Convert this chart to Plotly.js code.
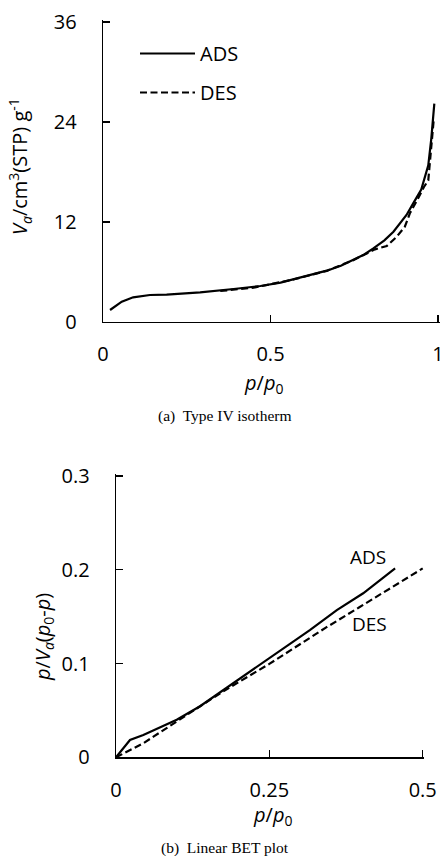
<!DOCTYPE html>
<html><head><meta charset="utf-8">
<script src="https://cdn.plot.ly/plotly-3.0.1.min.js"></script>
<style>html,body{margin:0;padding:0;background:#fff}#c{width:443px;height:856px}</style>
</head><body><div id="c"></div>
<script>
// (a) Type IV isotherm
const adsX1 = [0.021, 0.04, 0.056, 0.09, 0.14, 0.19, 0.29, 0.39, 0.47, 0.53, 0.568, 0.62, 0.668, 0.71, 0.747, 0.78, 0.807, 0.84, 0.867, 0.906, 0.926, 0.95, 0.971, 0.98, 0.989];
const adsY1 = [1.44, 2.0, 2.44, 2.96, 3.24, 3.28, 3.56, 3.96, 4.32, 4.72, 5.12, 5.6, 6.16, 6.75, 7.44, 8.1, 8.84, 9.8, 10.84, 12.84, 14.24, 15.9, 18.8, 22.0, 26.2];
const desX1 = [0.35, 0.39, 0.45, 0.568, 0.668, 0.747, 0.812, 0.847, 0.877, 0.901, 0.916, 0.94, 0.958, 0.971, 0.978, 0.987];
const desY1 = [3.72, 3.88, 4.12, 5.1, 6.14, 7.42, 8.72, 9.12, 10.24, 11.44, 13.04, 14.8, 16.2, 17.0, 20.0, 24.2];
// (b) Linear BET plot
const adsX2 = [0, 0.0228, 0.0445, 0.099, 0.137, 0.175, 0.2076, 0.2457, 0.273, 0.316, 0.36, 0.403, 0.455];
const adsY2 = [0, 0.0185, 0.0238, 0.040, 0.0545, 0.0718, 0.086, 0.1037, 0.1162, 0.1357, 0.157, 0.1749, 0.2015];
const desX2 = [0, 0.0228, 0.0445, 0.061, 0.099, 0.175, 0.25, 0.3427, 0.3967, 0.451, 0.5];
const desY2 = [0, 0.0078, 0.0149, 0.022, 0.038, 0.0705, 0.0996, 0.1385, 0.160, 0.182, 0.2015];
const xTicks1 = [0, 0.5, 1], xTickText1 = ['0', '0.5', '1'];
const yTicks1 = [0, 12, 24, 36], yTickText1 = ['0', '12', '24', '36'];
const xTicks2 = [0, 0.25, 0.5], xTickText2 = ['0', '0.25', '0.5'];
const yTicks2 = [0, 0.1, 0.2, 0.3], yTickText2 = ['0', '0.1', '0.2', '0.3'];
const seriesNames = ['ADS', 'DES'];

const W = 443, H = 856;
const px = v => v / W, py = v => (H - v) / H;
const F = 'Open Sans, Lato, sans-serif';
const SERIF = 'Liberation Serif, Times New Roman, serif';
const lineSolid = {color: '#000', width: 2.2};
const lineDash = {color: '#000', width: 2.2, dash: '7px,3.5px'};
const EXT = 1.6; // px of axis beyond last tick so inside end ticks are kept

// pixel frame of each panel: axis start/end (last tick) positions
const p1 = {x0: 103, x1: 438, y0: 322, y1: 22, xmax: 1, ymax: 36};
const p2 = {x0: 116, x1: 422.7, y0: 757.3, y1: 476, xmax: 0.5, ymax: 0.3};
function frame(p) {
  const sx = p.xmax / (p.x1 - p.x0), sy = p.ymax / (p.y0 - p.y1);
  return {xd: [px(p.x0), px(p.x1 + EXT)], xr: [0, p.xmax + EXT * sx],
          yd: [py(p.y0), py(p.y1 - EXT)], yr: [0, p.ymax + EXT * sy]};
}
const f1 = frame(p1), f2 = frame(p2);

const traces = [
  {x: adsX1, y: adsY1, xaxis: 'x', yaxis: 'y', mode: 'lines', name: seriesNames[0], line: lineSolid, legendgroup: 'a'},
  {x: desX1, y: desY1, xaxis: 'x', yaxis: 'y', mode: 'lines', name: seriesNames[1], line: lineDash, legendgroup: 'b'},
  {x: adsX2, y: adsY2, xaxis: 'x2', yaxis: 'y2', mode: 'lines', name: seriesNames[0], line: lineSolid, showlegend: false},
  {x: desX2, y: desY2, xaxis: 'x2', yaxis: 'y2', mode: 'lines', name: seriesNames[1], line: lineDash, showlegend: false}
];

const axBase = {showgrid: false, zeroline: false, showline: true, linecolor: '#000', linewidth: 1.3,
  ticks: 'inside', ticklen: 7, tickwidth: 1.3, tickcolor: '#000', tickfont: {family: F, size: 20, color: '#000'},
  tickmode: 'array', fixedrange: true, ticklabeloverflow: 'allow'};

const layout = {
  width: W, height: H, margin: {l: 0, r: 0, t: 0, b: 0}, paper_bgcolor: '#fff', plot_bgcolor: 'rgba(0,0,0,0)',
  font: {family: F, color: '#000'},
  showlegend: true,
  legend: {x: px(135), y: py(34), xanchor: 'left', yanchor: 'top', font: {family: F, size: 20, color: '#000'},
    tracegroupgap: 10, itemwidth: 55, bgcolor: 'rgba(0,0,0,0)'},
  xaxis: Object.assign({}, axBase, {domain: f1.xd, range: f1.xr, tickvals: xTicks1, ticktext: xTickText1, anchor: 'y', ticklabelstandoff: 14}),
  yaxis: Object.assign({}, axBase, {domain: f1.yd, range: f1.yr, tickvals: yTicks1, ticktext: yTickText1, anchor: 'x', ticklabelstandoff: 21}),
  xaxis2: Object.assign({}, axBase, {domain: f2.xd, range: f2.xr, tickvals: xTicks2, ticktext: xTickText2, anchor: 'y2', ticklabelstandoff: 14}),
  yaxis2: Object.assign({}, axBase, {domain: f2.yd, range: f2.yr, tickvals: yTicks2, ticktext: yTickText2, anchor: 'x2', ticklabelstandoff: 21}),
  annotations: [
    {xref: 'paper', yref: 'paper', x: px(263), y: py(383), text: '<i>p</i>/<i>p</i><sub>0</sub>', showarrow: false, font: {family: F, size: 20}, xanchor: 'center', yanchor: 'middle'},
    {xref: 'paper', yref: 'paper', x: px(20), y: py(167), text: '<i>V<sub>a</sub></i>/cm<sup>3</sup>(STP) g<sup>-1</sup>', textangle: -90, showarrow: false, font: {family: F, size: 20}, xanchor: 'center', yanchor: 'middle'},
    {xref: 'paper', yref: 'paper', x: px(225), y: py(416), text: '(a)  Type IV isotherm', showarrow: false, font: {family: SERIF, size: 15.5}, xanchor: 'center', yanchor: 'middle'},
    {xref: 'paper', yref: 'paper', x: px(272), y: py(815), text: '<i>p</i>/<i>p</i><sub>0</sub>', showarrow: false, font: {family: F, size: 20}, xanchor: 'center', yanchor: 'middle'},
    {xref: 'paper', yref: 'paper', x: px(43), y: py(637), text: '<i>p</i>/<i>V<sub>a</sub></i>(<i>p</i><sub>0</sub>-<i>p</i>)', textangle: -90, showarrow: false, font: {family: F, size: 20}, xanchor: 'center', yanchor: 'middle'},
    {xref: 'paper', yref: 'paper', x: px(225), y: py(848), text: '(b)  Linear BET plot', showarrow: false, font: {family: SERIF, size: 15.5}, xanchor: 'center', yanchor: 'middle'},
    {xref: 'x2', yref: 'y2', x: 0.411, y: 0.2135, text: seriesNames[0], showarrow: false, font: {family: F, size: 19}, xanchor: 'center', yanchor: 'middle'},
    {xref: 'x2', yref: 'y2', x: 0.413, y: 0.142, text: seriesNames[1], showarrow: false, font: {family: F, size: 19}, xanchor: 'center', yanchor: 'middle'}
  ]
};
Plotly.newPlot('c', traces, layout, {staticPlot: true, displayModeBar: false});
</script></body></html>
